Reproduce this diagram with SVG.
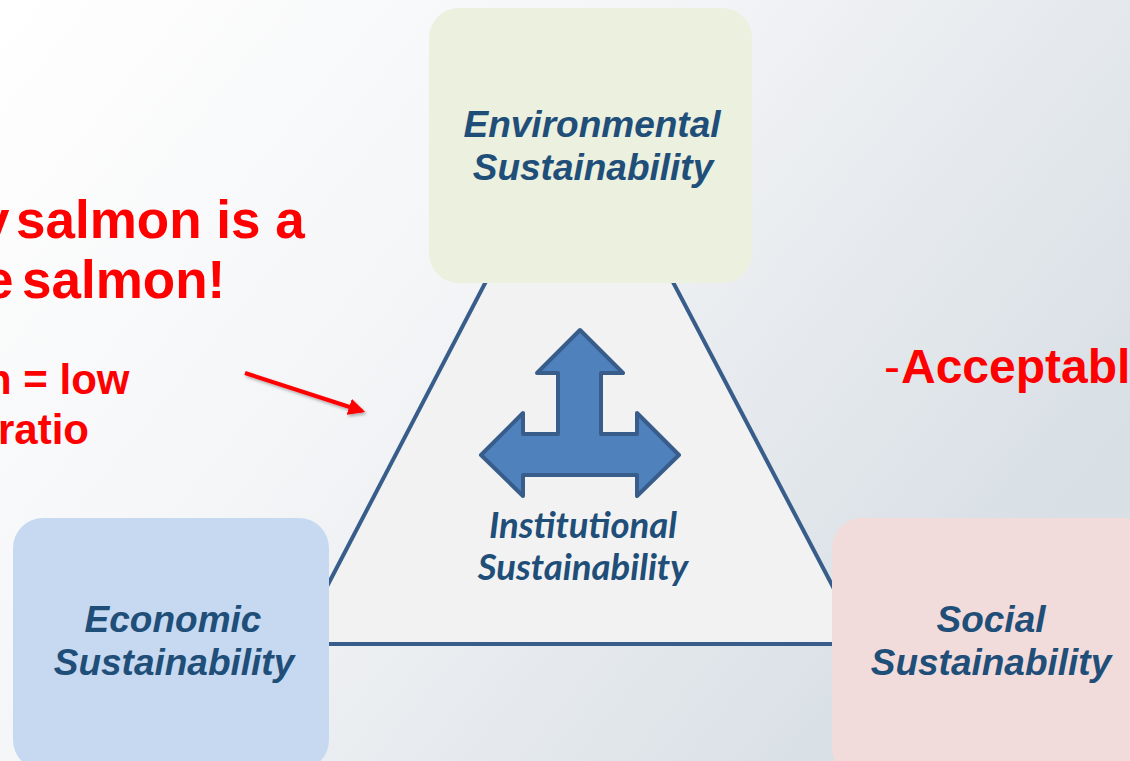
<svg xmlns="http://www.w3.org/2000/svg" width="1130" height="761" viewBox="0 0 1130 761">
  <defs>
    <linearGradient id="bg" x1="0" y1="0" x2="1" y2="0.55">
      <stop offset="0" stop-color="#ffffff"/>
      <stop offset="0.45" stop-color="#f4f5f7"/>
      <stop offset="1" stop-color="#d8dfe5"/>
    </linearGradient>
    <marker id="redhead" viewBox="0 0 10 10" refX="8" refY="5" markerWidth="4.2" markerHeight="4.2" orient="auto" markerUnits="strokeWidth">
      <path d="M0,0 L10,5 L0,10 Z" fill="#ff0000"/>
    </marker>
    <filter id="sh" x="-20%" y="-50%" width="140%" height="200%">
      <feDropShadow dx="1.5" dy="2" stdDeviation="1.5" flood-color="#000" flood-opacity="0.3"/>
    </filter>
  </defs>
  <style>
    .lbl { font-family: "Liberation Sans", Arial, sans-serif; font-weight: bold; font-style: italic; font-size: 37px; fill: #1f4e79; text-anchor: middle; }
    .inst { font-family: Lato, "Open Sans", sans-serif; font-weight: bold; font-style: italic; font-size: 36.5px; fill: #1f4e79; text-anchor: middle; }
    .red { font-family: "Liberation Sans", Arial, sans-serif; font-weight: bold; fill: #ff0000; }
    .edge { stroke: #385d8a; stroke-width: 4; fill: none; }
  </style>

  <rect x="0" y="0" width="1130" height="761" fill="url(#bg)"/>

  <!-- triangle body -->
  <polygon points="579,103 297,644 863,644" fill="#f2f2f2"/>

  <g id="connectors">
    <line class="edge" x1="579" y1="103" x2="297" y2="644"/>
    <line class="edge" x1="579" y1="103" x2="863" y2="644"/>
    <line class="edge" x1="297" y1="644" x2="863" y2="644"/>
  </g>

  <g id="institutional">
    <path d="M580,330 L623,373 L601,373 L601,434 L637,434 L637,413 L679,455 L637,496 L637,475 L523,475 L523,496 L481,455 L523,413 L523,434 L558,434 L558,373 L537,373 Z" fill="#4f81bd" stroke="#385d8a" stroke-width="4" stroke-linejoin="round"/>
    <text class="inst" x="583" y="538">Institutional</text>
    <text class="inst" x="583" y="580">Sustainability</text>
  </g>

  <g id="environmental">
    <rect x="429" y="8" width="323" height="275" rx="30" fill="#ebf0df"/>
    <text class="lbl" x="592" y="137">Environmental</text>
    <text class="lbl" x="593" y="180">Sustainability</text>
  </g>

  <g id="economic">
    <rect x="13" y="518" width="316" height="252" rx="30" fill="#c6d9f0"/>
    <text class="lbl" x="173" y="632">Economic</text>
    <text class="lbl" x="174" y="675">Sustainability</text>
  </g>

  <g id="social">
    <rect x="832" y="518" width="320" height="260" rx="30" fill="#f2dcdb"/>
    <text class="lbl" x="991" y="632">Social</text>
    <text class="lbl" x="991" y="675">Sustainability</text>
  </g>

  <g id="notes">
    <text class="red" font-size="53" x="-20" y="238">y</text>
    <text class="red" font-size="53" x="16" y="238">salmon is a</text>
    <text class="red" font-size="53" x="-16" y="298">e</text>
    <text class="red" font-size="53" x="22" y="298">salmon!</text>
    <text class="red" font-size="42" x="-14" y="394">n = low</text>
    <text class="red" font-size="42" x="-2" y="444">ratio</text>
    <text class="red" font-size="48" y="383"><tspan x="884" font-weight="normal">-</tspan><tspan x="901">Acceptable</tspan></text>
    <line x1="245" y1="373" x2="362" y2="411" stroke="#ff0000" stroke-width="4" marker-end="url(#redhead)" filter="url(#sh)"/>
  </g>
</svg>
